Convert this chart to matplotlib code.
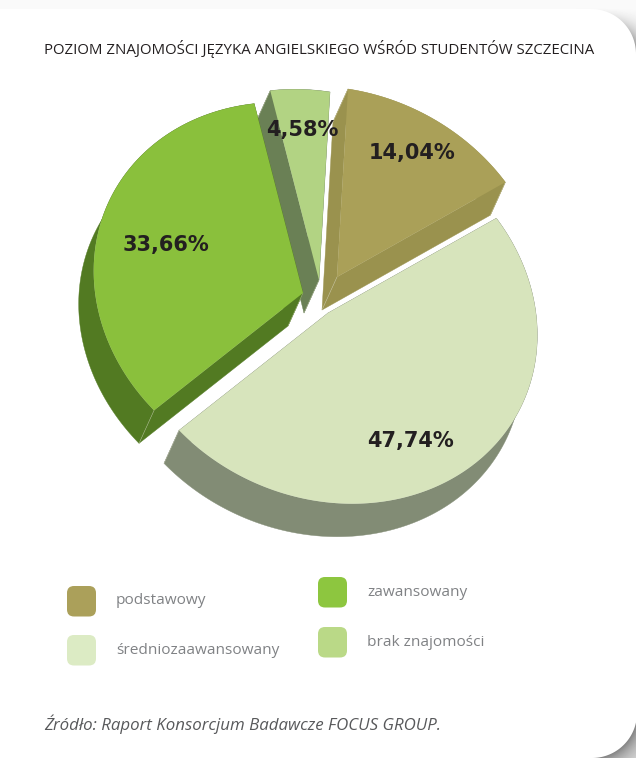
import numpy as np
import matplotlib
matplotlib.use("Agg")
import matplotlib.pyplot as plt
from matplotlib.patches import Polygon, FancyBboxPatch

title = "POZIOM ZNAJOMOŚCI JĘZYKA ANGIELSKIEGO WŚRÓD STUDENTÓW SZCZECINA"
source = "Źródło: Raport Konsorcjum Badawcze FOCUS GROUP."
categories = ["podstawowy", "średniozaawansowany", "zawansowany", "brak znajomości"]
values = [14.04, 47.74, 33.66, 4.58]
value_labels = ["14,04%", "47,74%", "33,66%", "4,58%"]

top_colors = ["#AAA058", "#D7E4BC", "#8AC03C", "#B2D383"]
side_colors = ["#9A924E", "#828C75", "#527A22", "#6A8055"]
legend_colors = ["#ABA05A", "#DCEBC4", "#8DC63F", "#BAD987"]
apexes = [(337, 277), (328, 313), (303, 293), (319, 280)]
label_pos = [(412, 153), (410, 441), (166, 245), (302, 130)]
legend_pos = [(67, 586), (67, 635), (318, 577), (318, 627)]
legend_text_pos = [(116, 601), (116, 650), (367, 593), (367, 642)]
draw_order = [3, 0, 2, 1]

U = np.array([11.0, -188.0])
V = np.array([209.0, 32.0])
DEPTH = np.array([-15.0, 33.0])

W, H = 636, 758
fig = plt.figure(figsize=(W / 100, H / 100), dpi=100)
ax = fig.add_axes([0, 0, 1, 1])
ax.set_xlim(0, W)
ax.set_ylim(H, 0)
ax.axis("off")

# page background: faint top strip with soft shadow in the right corners
yy, xx = np.mgrid[0:H, 0:W] + 0.5
bg = np.full((H, W), 250.0)
R = 45.0
top_c = (591.0, 54.0)
bot_c = (592.0, 713.0)
d_top = np.hypot(xx - top_c[0], yy - top_c[1]) - R
shade_top = 100 * np.clip((yy - 8) / 40, 0, 1) * np.exp(-np.clip(d_top, 0, None) / 12)
bg = np.where((xx > 560) & (yy < 70), bg - shade_top, bg)
d_bot = np.hypot(xx - bot_c[0], yy - bot_c[1]) - R
shade_bot = 105 * np.exp(-np.clip(d_bot, 0, None) / 14)
bg = np.where((xx > 560) & (yy > 680), 235 - shade_bot, bg)
ax.imshow(bg, cmap="gray", vmin=0, vmax=255, extent=(0, W, H, 0), aspect="auto", zorder=0)

# white card with circular right corners
a1 = np.linspace(-np.pi / 2, 0, 40)
a2 = np.linspace(0, np.pi / 2, 40)
card_pts = [(-5, 9)]
card_pts += [(top_c[0] + R * np.cos(a), top_c[1] + R * np.sin(a)) for a in a1]
card_pts += [(bot_c[0] + R * np.cos(a), bot_c[1] + R * np.sin(a)) for a in a2]
card_pts += [(-5, H + 5)]
ax.add_patch(Polygon(card_pts, closed=True, fc="white", ec="none", zorder=1))

# 3D exploded pie
cum = np.concatenate([[0], np.cumsum(values)]) / sum(values) * 2 * np.pi
for i in draw_order:
    z = 2 + draw_order.index(i)
    t = np.linspace(cum[i], cum[i + 1], 200)
    apex = np.array(apexes[i], dtype=float)
    arc = apex + np.outer(np.cos(t), U) + np.outer(np.sin(t), V)
    outline = np.vstack([apex, arc])
    side = side_colors[i]
    # extruded faces
    ax.add_patch(Polygon(np.vstack([arc, (arc + DEPTH)[::-1]]), closed=True, fc=side, ec=side,
                         lw=0.3, zorder=z))
    for p in (arc[0], arc[-1]):
        ax.add_patch(Polygon([apex, p, p + DEPTH, apex + DEPTH], closed=True, fc=side, ec=side,
                             lw=0.3, zorder=z))
    # thin highlights on the extruded edges
    for p in (apex, arc[0], arc[-1]):
        ax.plot([p[0], p[0] + DEPTH[0]], [p[1], p[1] + DEPTH[1]], color="#DDDDCC", lw=0.4,
                alpha=0.6, zorder=z + 0.5)
    ax.add_patch(Polygon(outline, closed=True, fc=top_colors[i], ec="none", zorder=z + 0.6))

for lab, (x, y) in zip(value_labels, label_pos):
    ax.text(x, y, lab, fontsize=15, fontweight="bold", family="DejaVu Sans",
            color="#231F20", ha="center", va="center", zorder=20)

ax.text(44, 49.5, title, fontsize=10.8, family="Open Sans", color="#231F20", ha="left",
        va="center", zorder=20)

for cat, col, (x, y), (tx, ty) in zip(categories, legend_colors, legend_pos, legend_text_pos):
    ax.add_patch(FancyBboxPatch((x + 6, y + 6), 17, 18.5, boxstyle="round,pad=6,rounding_size=7",
                                fc=col, ec="none", zorder=10))
    ax.text(tx, ty, cat, fontsize=11.1, family="Open Sans", color="#808285", ha="left",
            va="center", zorder=20)

ax.text(44, 724, source, fontsize=12.15, family="Open Sans", style="italic", color="#58595B",
        ha="left", va="center", zorder=20)

fig.savefig("out.png", dpi=100)
